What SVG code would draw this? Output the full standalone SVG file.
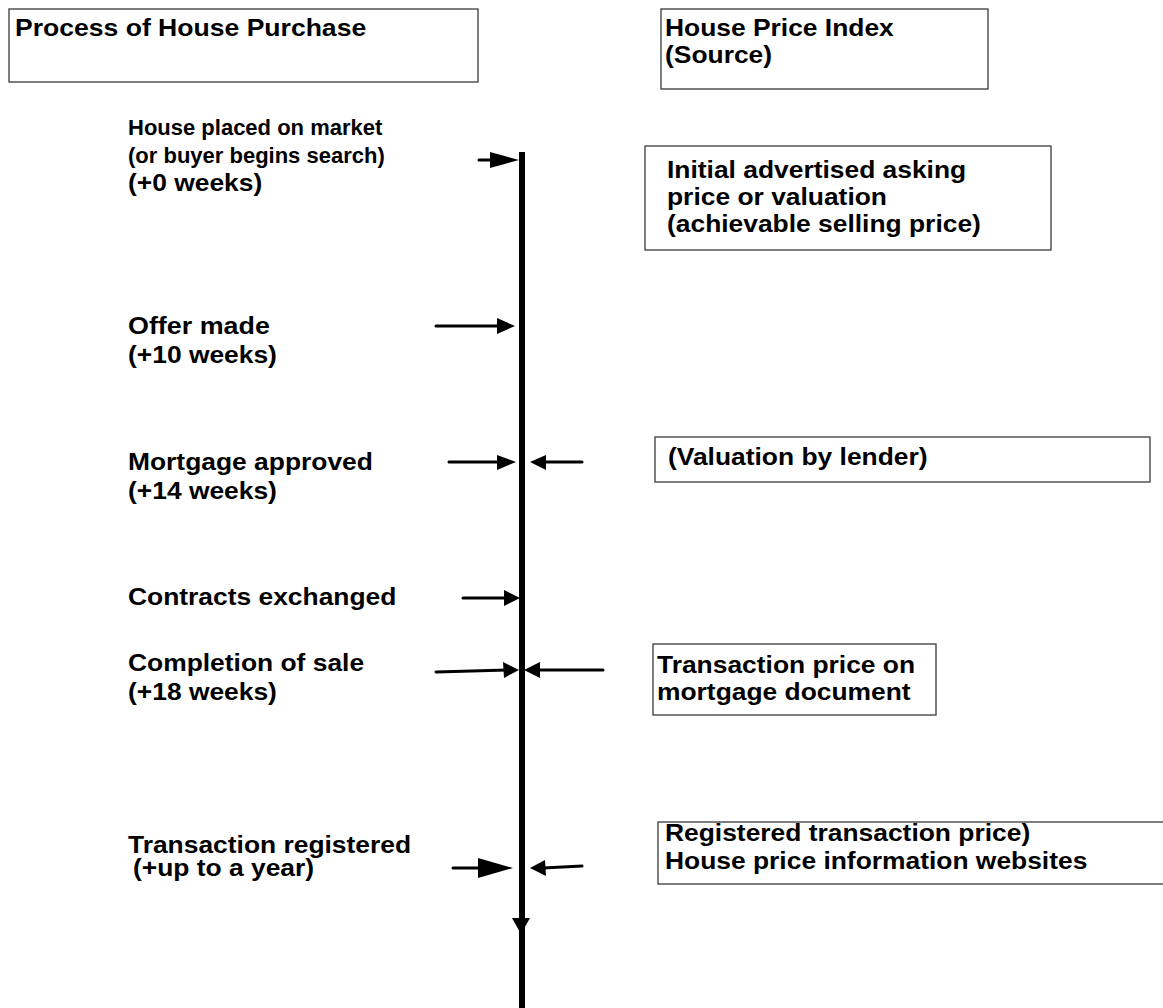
<svg xmlns="http://www.w3.org/2000/svg" width="1163" height="1008" viewBox="0 0 1163 1008">
<defs>
<style>
.t{font-family:"Liberation Sans",Arial,sans-serif;font-weight:bold;font-size:24px;fill:#000}
.s{font-size:22px}
.box{fill:#fff;stroke:#3a3a3a;stroke-width:1.3}
.shaft{stroke:#000;stroke-width:3;stroke-linecap:round;fill:none}
.head{fill:#000}
</style>
</defs>
<rect width="1163" height="1008" fill="#fff"/>
<g id="title-process"><rect class="box" x="9" y="9" width="469" height="73"/><text class="t" transform="translate(15,36) scale(1.107,1)">Process of House Purchase</text></g>
<g id="title-index"><rect class="box" x="661" y="9" width="327" height="80"/><text class="t" transform="translate(665,36) scale(1.1,1)">House Price Index</text><text class="t" transform="translate(665,63) scale(1.1,1)">(Source)</text></g>
<g id="step-market"><text class="t s" x="128" y="135">House placed on market</text><text class="t s" x="128" y="163">(or buyer begins search)</text><text class="t" transform="translate(128,191) scale(1.1,1)">(+0 weeks)</text></g>
<g id="step-offer"><text class="t" transform="translate(128,334) scale(1.12,1)">Offer made</text><text class="t" transform="translate(128,363) scale(1.1,1)">(+10 weeks)</text></g>
<g id="step-mortgage"><text class="t" transform="translate(128,470) scale(1.1,1)">Mortgage approved</text><text class="t" transform="translate(128,499) scale(1.1,1)">(+14 weeks)</text></g>
<g id="step-contracts"><text class="t" transform="translate(128,605) scale(1.1,1)">Contracts exchanged</text></g>
<g id="step-completion"><text class="t" transform="translate(128,671) scale(1.1,1)">Completion of sale</text><text class="t" transform="translate(128,700) scale(1.1,1)">(+18 weeks)</text></g>
<g id="step-registered"><text class="t" transform="translate(128,853) scale(1.1,1)">Transaction registered</text><text class="t" transform="translate(133,876) scale(1.1,1)">(+up to a year)</text></g>
<g id="src-asking"><rect class="box" x="645" y="146" width="406" height="104"/><text class="t" transform="translate(667,178) scale(1.1,1)">Initial advertised asking</text><text class="t" transform="translate(667,205) scale(1.1,1)">price or valuation</text><text class="t" transform="translate(667,232) scale(1.1,1)">(achievable selling price)</text></g>
<g id="src-valuation"><rect class="box" x="655" y="437" width="495" height="45"/><text class="t" transform="translate(668,465) scale(1.1,1)">(Valuation by lender)</text></g>
<g id="src-mortgage-doc"><rect class="box" x="653" y="644" width="283" height="71"/><text class="t" transform="translate(657,673) scale(1.1,1)">Transaction price on</text><text class="t" transform="translate(657,700) scale(1.1,1)">mortgage document</text></g>
<g id="src-registered"><rect class="box" x="658" y="822" width="520" height="62"/><text class="t" transform="translate(665,841) scale(1.1,1)">Registered transaction price)</text><text class="t" transform="translate(665,869) scale(1.1,1)">House price information websites</text></g>
<g id="connectors">
<line x1="522" y1="152" x2="522" y2="1008" stroke="#000" stroke-width="6"/>
<polygon class="head" points="512,918 530,918 521,934"/>
<line class="shaft" x1="479" y1="160" x2="495" y2="160"/><polygon class="head" points="490,152 490,168 519,160"/>
<line class="shaft" x1="436" y1="326" x2="500" y2="326"/><polygon class="head" points="497,318 497,334 515,326"/>
<line class="shaft" x1="449" y1="462" x2="500" y2="462"/><polygon class="head" points="497,455 497,470 516,462"/>
<line class="shaft" x1="582" y1="462" x2="543" y2="462"/><polygon class="head" points="530,462 546,455 546,470"/>
<line class="shaft" x1="463" y1="598" x2="507" y2="598"/><polygon class="head" points="504,590 504,606 520,598"/>
<line class="shaft" x1="436" y1="672" x2="507" y2="670"/><polygon class="head" points="503,662 504,678 519,670"/>
<line class="shaft" x1="603" y1="670" x2="538" y2="670"/><polygon class="head" points="524,670 540,662 540,678"/>
<line class="shaft" x1="453" y1="868" x2="482" y2="868"/><polygon class="head" points="478,858 478,878 513,868"/>
<line class="shaft" x1="582" y1="866" x2="543" y2="868"/><polygon class="head" points="530,868 545,860 546,876"/>
</g>
</svg>
